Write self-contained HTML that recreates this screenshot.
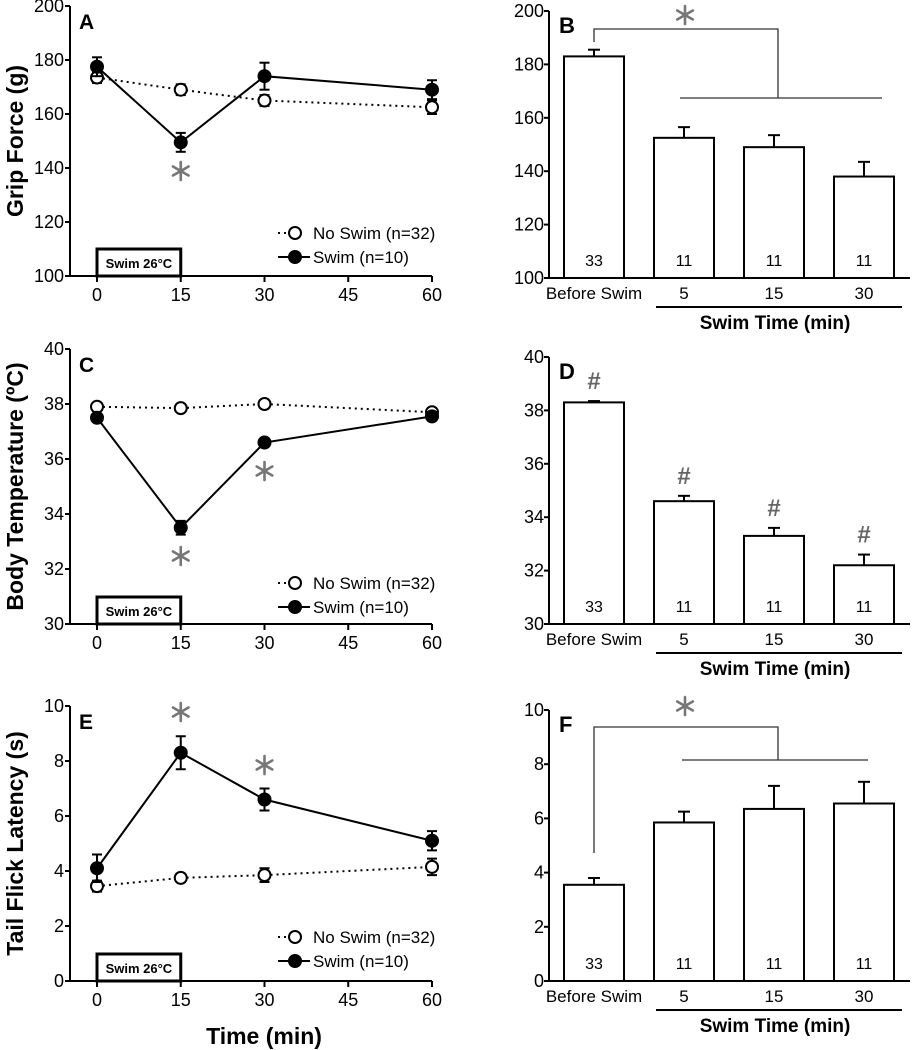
<!DOCTYPE html>
<html><head><meta charset="utf-8"><style>
body{margin:0;background:#fff}
svg{display:block;font-family:"Liberation Sans",Arial,sans-serif}
</style></head><body>
<svg id="fig" width="914" height="1050" viewBox="0 0 914 1050"></svg>
<script>
const NS="http://www.w3.org/2000/svg";
const svg=document.getElementById('fig');
// ---- data ----
const timePoints=[0,15,30,60];
const timeTicks=[0,15,30,45,60];
const gripNoSwim=[173.5,169,165,162.5];
const gripNoSwimErr=[2,2,2,2.5];
const gripSwim=[177.5,149.5,174,169];
const gripSwimErr=[3.5,3.5,5,3.5];
const tempNoSwim=[37.9,37.85,38.0,37.7];
const tempNoSwimErr=[0.08,0.08,0.08,0.08];
const tempSwim=[37.5,33.5,36.6,37.55];
const tempSwimErr=[0.1,0.25,0.1,0.1];
const tailNoSwim=[3.45,3.75,3.85,4.15];
const tailNoSwimErr=[0.2,0.15,0.25,0.3];
const tailSwim=[4.1,8.3,6.6,5.1];
const tailSwimErr=[0.5,0.6,0.4,0.35];
const barCats=["Before Swim","5","15","30"];
const barN=["33","11","11","11"];
const gripBars=[183,152.5,149,138];
const gripBarErr=[2.5,4,4.5,5.5];
const tempBars=[38.3,34.6,33.3,32.2];
const tempBarErr=[0.05,0.2,0.3,0.4];
const tailBars=[3.55,5.85,6.35,6.55];
const tailBarErr=[0.25,0.4,0.85,0.8];
const gripTicks=[100,120,140,160,180,200];
const tempTicks=[30,32,34,36,38,40];
const tailTicks=[0,2,4,6,8,10];

function el(tag,attrs,parent,text){const e=document.createElementNS(NS,tag);for(const k in attrs)e.setAttribute(k,attrs[k]);if(text!==undefined)e.textContent=text;(parent||svg).appendChild(e);return e;}

function star(g,cx,cy){
  const s=el('g',{stroke:'#777','stroke-width':2.6,'stroke-linecap':'round'},g);
  
  
  const r=9;
  [90,30,-30].forEach(a=>{const t=a*Math.PI/180;
    el('line',{x1:cx-r*Math.cos(t),y1:cy-r*Math.sin(t),x2:cx+r*Math.cos(t),y2:cy+r*Math.sin(t)},s);});
}

function linePanel(cfg){
  const g=el('g',{});
  
  
  const x0=70,x1=432,ax0=97;
  const xs=t=>ax0+(t/60)*(x1-ax0);
  const ys=v=>cfg.yB-(v-cfg.min)/(cfg.max-cfg.min)*(cfg.yB-cfg.yT);
  const ya=el('line',{x1:x0,y1:cfg.yT,x2:x0,y2:cfg.yB,stroke:'#000','stroke-width':2},g);
  
  const xa=el('line',{x1:x0,y1:cfg.yB,x2:x1,y2:cfg.yB,stroke:'#000','stroke-width':2},g);
  
  cfg.ticks.forEach(v=>{el('line',{x1:x0-5,y1:ys(v),x2:x0,y2:ys(v),stroke:'#000','stroke-width':2},g);
    const t=el('text',{x:x0-6,y:ys(v)+6,'text-anchor':'end','font-size':18},g,v);
    });
  timeTicks.forEach(v=>{el('line',{x1:xs(v),y1:cfg.yB,x2:xs(v),y2:cfg.yB+6,stroke:'#000','stroke-width':2},g);
    const t=el('text',{x:xs(v),y:cfg.yB+25,'text-anchor':'middle','font-size':18},g,v);
    });
  const L=el('text',{x:79,y:cfg.yT+23,'font-size':21,'font-weight':'bold'},g,cfg.letter);
  
  const yt=el('text',{x:0,y:0,'font-size':23,'font-weight':'bold','text-anchor':'middle',transform:`translate(23,${(cfg.yT+cfg.yB)/2}) rotate(-90)`},g,cfg.title);
  
  const bx=el('rect',{x:xs(0),y:cfg.yB-27,width:xs(15)-xs(0),height:27,fill:'#fff',stroke:'#000','stroke-width':3},g);
  
  const bt=el('text',{x:(xs(0)+xs(15))/2,y:cfg.yB-8,'text-anchor':'middle','font-size':13,'font-weight':'bold'},g,'Swim 26°C');
  
  function series(vals,errs,filled,name){
    const pts=vals.map((v,i)=>xs(timePoints[i])+','+ys(v)).join(' ');
    const pl=el('polyline',{points:pts,fill:'none',stroke:'#000','stroke-width':2,'stroke-dasharray':filled?'':'2,4'},g);
    
    vals.forEach((v,i)=>{const x=xs(timePoints[i]);
      el('line',{x1:x,y1:ys(v+errs[i]),x2:x,y2:ys(v-errs[i]),stroke:'#000','stroke-width':2},g);
      el('line',{x1:x-5,y1:ys(v+errs[i]),x2:x+5,y2:ys(v+errs[i]),stroke:'#000','stroke-width':2},g);
      el('line',{x1:x-5,y1:ys(v-errs[i]),x2:x+5,y2:ys(v-errs[i]),stroke:'#000','stroke-width':2},g);
      const c=el('circle',{cx:x,cy:ys(v),r:6,fill:filled?'#000':'#fff',stroke:'#000','stroke-width':2},g);
      });
  }
  series(cfg.no,cfg.noE,false,'no-swim');
  series(cfg.sw,cfg.swE,true,'swim');
  cfg.stars.forEach(s=>star(g,xs(s[0]),s[1]));
  const ly=cfg.leg;
  el('line',{x1:278,y1:ly,x2:300,y2:ly,stroke:'#000','stroke-width':2,'stroke-dasharray':'2,4'},g);
  el('circle',{cx:295,cy:ly,r:6,fill:'#fff',stroke:'#000','stroke-width':2},g);
  const t1=el('text',{x:313,y:ly+6,'font-size':17},g,'No Swim (n=32)');
  
  el('line',{x1:278,y1:ly+24,x2:310,y2:ly+24,stroke:'#000','stroke-width':2},g);
  el('circle',{cx:295,cy:ly+24,r:6,fill:'#000',stroke:'#000','stroke-width':2},g);
  const t2=el('text',{x:313,y:ly+30,'font-size':17},g,'Swim (n=10)');
  
}

function barPanel(cfg){
  const g=el('g',{});
  
  
  const x0=549,x1=910,bw=60,centers=[594,684,774,864];
  const ys=v=>cfg.yB-(v-cfg.min)/(cfg.max-cfg.min)*(cfg.yB-cfg.yT);
  const ya=el('line',{x1:x0,y1:cfg.yT,x2:x0,y2:cfg.yB,stroke:'#000','stroke-width':2},g);
  
  const xa=el('line',{x1:x0,y1:cfg.yB,x2:x1,y2:cfg.yB,stroke:'#000','stroke-width':2},g);
  
  cfg.ticks.forEach(v=>{el('line',{x1:x0-5,y1:ys(v),x2:x0,y2:ys(v),stroke:'#000','stroke-width':2},g);
    const t=el('text',{x:x0-5,y:ys(v)+6,'text-anchor':'end','font-size':18},g,v);
    });
  const L=el('text',{x:559,y:cfg.yT+22,'font-size':22,'font-weight':'bold'},g,cfg.letter);
  
  cfg.vals.forEach((v,i)=>{const c=centers[i];
    const e=v+cfg.err[i];
    el('line',{x1:c,y1:ys(v),x2:c,y2:ys(e),stroke:'#000','stroke-width':2},g);
    el('line',{x1:c-6,y1:ys(e),x2:c+6,y2:ys(e),stroke:'#000','stroke-width':2},g);
    const r=el('rect',{x:c-bw/2,y:ys(v),width:bw,height:cfg.yB-ys(v),fill:'#fff',stroke:'#000','stroke-width':2},g);
    
    const n=el('text',{x:c,y:cfg.yB-12,'text-anchor':'middle','font-size':16},g,barN[i]);
    
    const cl=el('text',{x:c,y:cfg.yB+21,'text-anchor':'middle','font-size':17},g,barCats[i]);
    
    if(cfg.hash){const h=el('text',{x:c,y:ys(e)-12,'text-anchor':'middle','font-size':24,'font-weight':'bold',fill:'#666'},g,'#');
      }
  });
  el('line',{x1:656,y1:cfg.yB+29,x2:902,y2:cfg.yB+29,stroke:'#000','stroke-width':2},g);
  const st=el('text',{x:775,y:cfg.yB+51,'text-anchor':'middle','font-size':19,'font-weight':'bold'},g,'Swim Time (min)');
  
  if(cfg.bracket){const b=cfg.bracket;
    const p=el('polyline',{points:`594,${b.l} 594,${b.top} 778,${b.top} 778,${b.h} `,fill:'none',stroke:'#333','stroke-width':1.3},g);
    
    el('line',{x1:b.hx0,y1:b.h,x2:b.hx1,y2:b.h,stroke:'#333','stroke-width':1.3},g);
    star(g,685,b.star);}
}

linePanel({name:'panel-a-grip-force',letter:'A',title:'Grip Force (g)',yT:6,yB:276,min:100,max:200,ticks:gripTicks,
  no:gripNoSwim,noE:gripNoSwimErr,sw:gripSwim,swE:gripSwimErr,stars:[[15,171]],leg:233});
barPanel({name:'panel-b-grip-force-bars',letter:'B',yT:11,yB:278,min:100,max:200,ticks:gripTicks,vals:gripBars,err:gripBarErr,
  bracket:{l:42,top:29,h:98,hx0:680,hx1:882,star:15}});
linePanel({name:'panel-c-body-temperature',letter:'C',title:'Body Temperature (ºC)',yT:349,yB:624,min:30,max:40,ticks:tempTicks,
  no:tempNoSwim,noE:tempNoSwimErr,sw:tempSwim,swE:tempSwimErr,stars:[[15,556],[30,471]],leg:583});
barPanel({name:'panel-d-body-temperature-bars',letter:'D',yT:357,yB:624,min:30,max:40,ticks:tempTicks,vals:tempBars,err:tempBarErr,hash:true});
linePanel({name:'panel-e-tail-flick',letter:'E',title:'Tail Flick Latency (s)',yT:706,yB:981,min:0,max:10,ticks:tailTicks,
  no:tailNoSwim,noE:tailNoSwimErr,sw:tailSwim,swE:tailSwimErr,stars:[[15,712],[30,765]],leg:937});
barPanel({name:'panel-f-tail-flick-bars',letter:'F',yT:710,yB:981,min:0,max:10,ticks:tailTicks,vals:tailBars,err:tailBarErr,
  bracket:{l:853,top:727,h:760,hx0:682,hx1:868,star:706}});
const tt=el('text',{x:264,y:1044,'text-anchor':'middle','font-size':23,'font-weight':'bold'},svg,'Time (min)');


</script>
</body></html>
